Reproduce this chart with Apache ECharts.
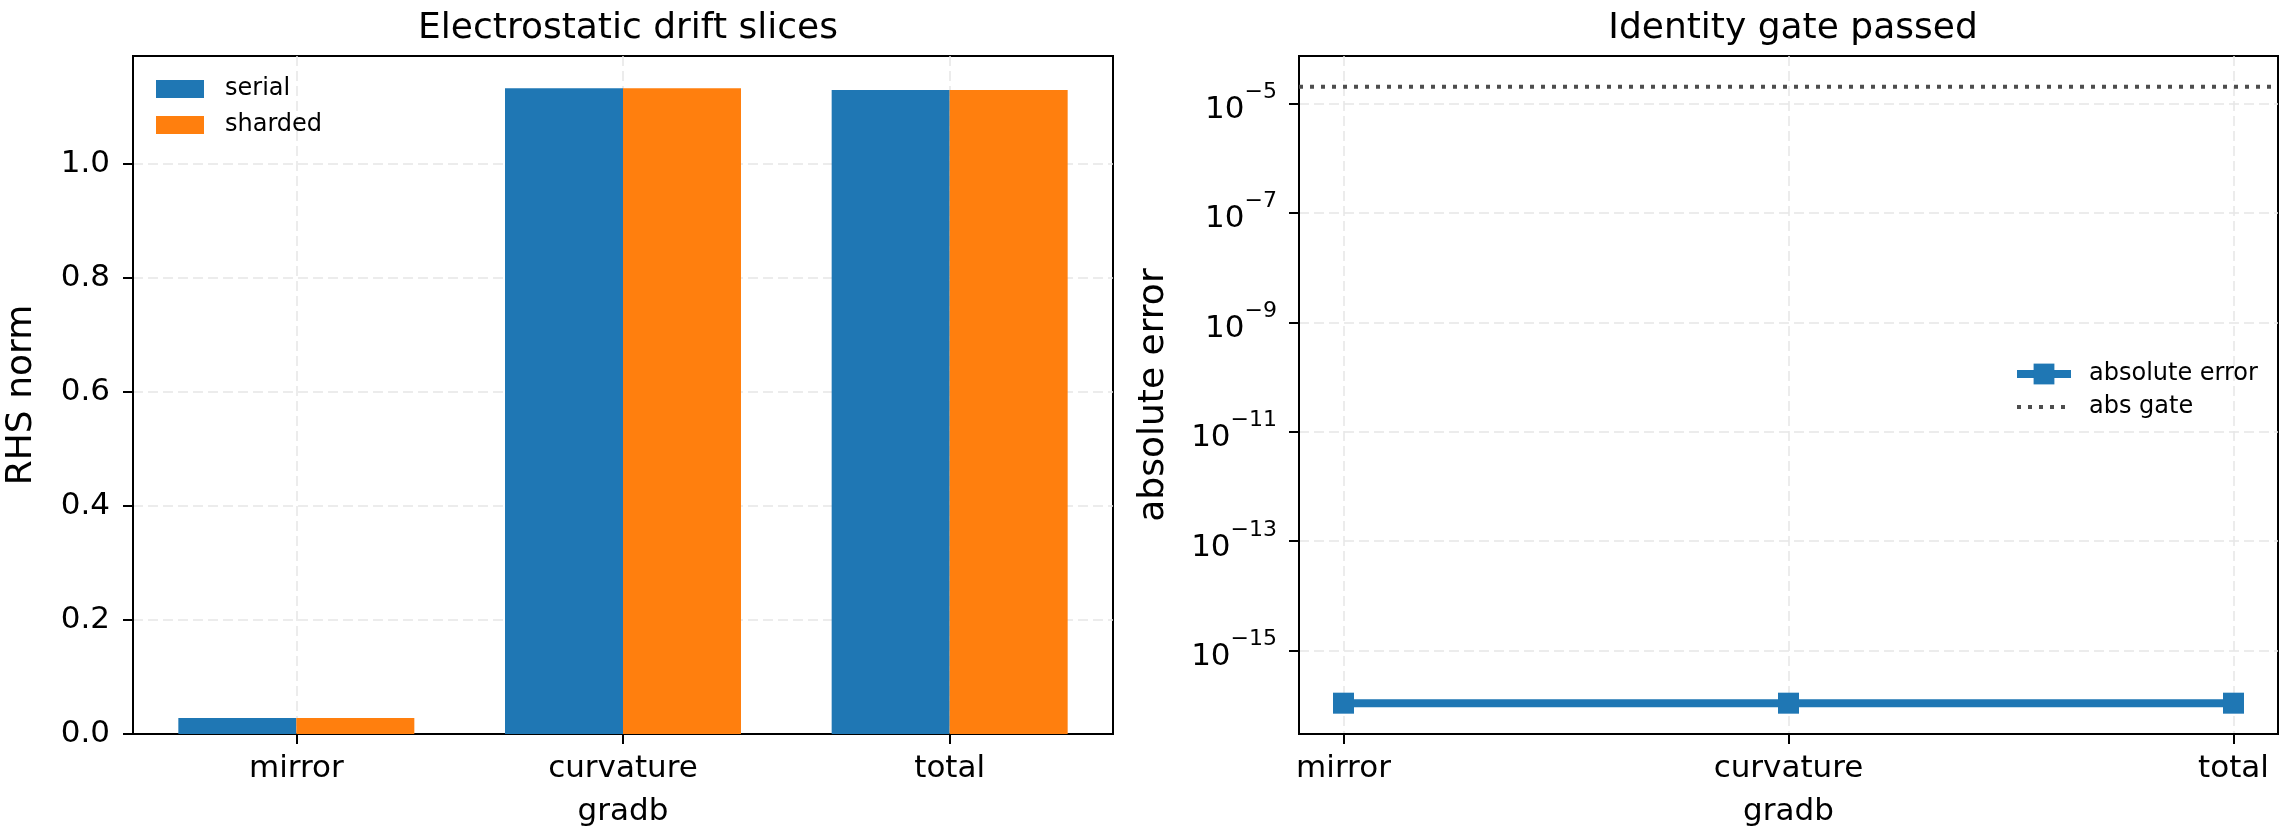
<!DOCTYPE html>
<html>
<head>
<meta charset="utf-8">
<script src="https://cdn.jsdelivr.net/npm/echarts@6/dist/echarts.min.js"></script>
<style>
  html, body { margin: 0; padding: 0; background: #fff; }
  #chart { width: 2288px; height: 836px; }
</style>
</head>
<body>
<div id="chart"></div>
<script>
// data
const categories = ['mirror', 'curvature\ngradb', 'total'];
const serialNorm = [0.028, 1.132, 1.129];
const shardedNorm = [0.028, 1.132, 1.129];
const absError = [1.1e-16, 1.1e-16, 1.1e-16];
const absGate = 2e-5;
const normTicks = [0, 0.2, 0.4, 0.6, 0.8, 1.0];
const errorTicks = [1e-15, 1e-13, 1e-11, 1e-9, 1e-7, 1e-5];

const FONT = 'DejaVu Sans';
const BLUE = '#1f77b4';
const ORANGE = '#ff7f0e';
const GATE = '#4d4d4d';

// matplotlib style margins
const catIdx = categories.map((c, i) => i);
const normMax = Math.max(...serialNorm, ...shardedNorm) * 1.05;
const logLo = Math.log10(Math.min(...absError));
const logHi = Math.log10(absGate);
const logPad = (logHi - logLo) * 0.05;
const xPad = (categories.length - 1) * 0.05;
const xMin = -xPad, xMax = categories.length - 1 + xPad;

const gridLine = { show: true, lineStyle: { color: '#e6e6e6', width: 1.5, type: [10, 5] } };
const tick = { show: true, inside: false, length: 10, lineStyle: { color: '#000', width: 2 } };
const axisLine = { show: true, onZero: false, lineStyle: { color: '#000', width: 2 } };
const tickFont = { fontFamily: FONT, fontSize: 31, color: '#000' };
const gateLine = { color: GATE, width: 4, type: [4, 7], cap: 'butt' };

function supLabel(v) {
  const e = Math.round(Math.log10(v));
  return '{b|10}{s|' + (e < 0 ? '\u2212' + (-e) : e) + '}';
}

function catAxis(gridIndex, lo, hi) {
  return {
    type: 'value', gridIndex: gridIndex, min: lo, max: hi,
    axisLine: axisLine,
    axisTick: Object.assign({ customValues: catIdx }, tick),
    axisLabel: Object.assign({ margin: 13, lineHeight: 43, customValues: catIdx,
      formatter: v => categories[Math.round(v)] }, tickFont),
    splitLine: gridLine
  };
}

const chart = echarts.init(document.getElementById('chart'));
chart.setOption({
  animation: false,
  backgroundColor: '#fff',
  title: [
    { text: 'Electrostatic drift slices', left: 623, top: 6, textAlign: 'center',
      textStyle: { fontFamily: FONT, fontSize: 36, fontWeight: 'normal', color: '#000' } },
    { text: 'Identity gate passed', left: 1788, top: 6, textAlign: 'center',
      textStyle: { fontFamily: FONT, fontSize: 36, fontWeight: 'normal', color: '#000' } }
  ],
  legend: [
    { data: ['serial', 'sharded'], orient: 'vertical', left: 156, top: 77,
      icon: 'rect', itemWidth: 48, itemHeight: 18, itemGap: 12, padding: 0,
      textStyle: { fontFamily: FONT, fontSize: 24, lineHeight: 24, color: '#000', padding: [0, 0, 0, 16] } },
    { data: [
        { name: 'absolute error', lineStyle: { width: 8 } },
        { name: 'abs gate', lineStyle: { width: 4, type: [4, 7] }, itemStyle: { opacity: 0 } }
      ],
      orient: 'vertical', left: 2013, top: 362,
      itemWidth: 54, itemHeight: 26, itemGap: 9, padding: 0,
      textStyle: { fontFamily: FONT, fontSize: 24, lineHeight: 24, color: '#000', padding: [0, 0, 0, 13] } }
  ],
  grid: [
    { left: 133, top: 56, width: 980, height: 678, show: true, borderColor: '#000', borderWidth: 2 },
    { left: 1299, top: 56, width: 979, height: 678, show: true, borderColor: '#000', borderWidth: 2 }
  ],
  xAxis: [catAxis(0, -0.5, categories.length - 0.5), catAxis(1, xMin, xMax)],
  yAxis: [
    { type: 'value', gridIndex: 0, min: 0, max: normMax,
      name: 'RHS norm', nameLocation: 'middle', nameGap: 93,
      nameTextStyle: { fontFamily: FONT, fontSize: 36, color: '#000' },
      axisLine: axisLine,
      axisTick: Object.assign({ customValues: normTicks }, tick),
      axisLabel: Object.assign({ margin: 23, customValues: normTicks, formatter: v => v.toFixed(1) }, tickFont),
      splitLine: gridLine },
    { type: 'log', logBase: 10, gridIndex: 1,
      min: Math.pow(10, logLo - logPad), max: Math.pow(10, logHi + logPad),
      name: 'absolute error', nameLocation: 'middle', nameGap: 127,
      nameTextStyle: { fontFamily: FONT, fontSize: 36, color: '#000' },
      axisLine: axisLine,
      axisTick: Object.assign({ customValues: errorTicks }, tick),
      axisLabel: {
        margin: 22, customValues: errorTicks, formatter: supLabel,
        rich: {
          b: { fontFamily: FONT, fontSize: 31, color: '#000', lineHeight: 44, verticalAlign: 'bottom' },
          s: { fontFamily: FONT, fontSize: 22, color: '#000', lineHeight: 28, verticalAlign: 'top' }
        }
      },
      splitLine: gridLine }
  ],
  series: [
    { name: 'serial', type: 'bar', xAxisIndex: 0, yAxisIndex: 0,
      data: serialNorm.map((v, i) => [i, v]),
      barWidth: 118, barGap: '0%', itemStyle: { color: BLUE } },
    { name: 'sharded', type: 'bar', xAxisIndex: 0, yAxisIndex: 0,
      data: shardedNorm.map((v, i) => [i, v]),
      barWidth: 118, barGap: '0%', itemStyle: { color: ORANGE } },
    // horizontal gate line across the whole x range (like axhline)
    { name: 'abs gate', type: 'line', xAxisIndex: 1, yAxisIndex: 1,
      data: [[xMin, absGate], [xMax, absGate]],
      symbol: 'none', showSymbol: false, color: GATE, lineStyle: gateLine, z: 2 },
    { name: 'absolute error', type: 'line', xAxisIndex: 1, yAxisIndex: 1,
      data: absError.map((v, i) => [i, v]),
      symbol: 'rect', symbolSize: 21, color: BLUE,
      lineStyle: { color: BLUE, width: 8 }, itemStyle: { color: BLUE }, z: 3 }
  ]
});
</script>
</body>
</html>
